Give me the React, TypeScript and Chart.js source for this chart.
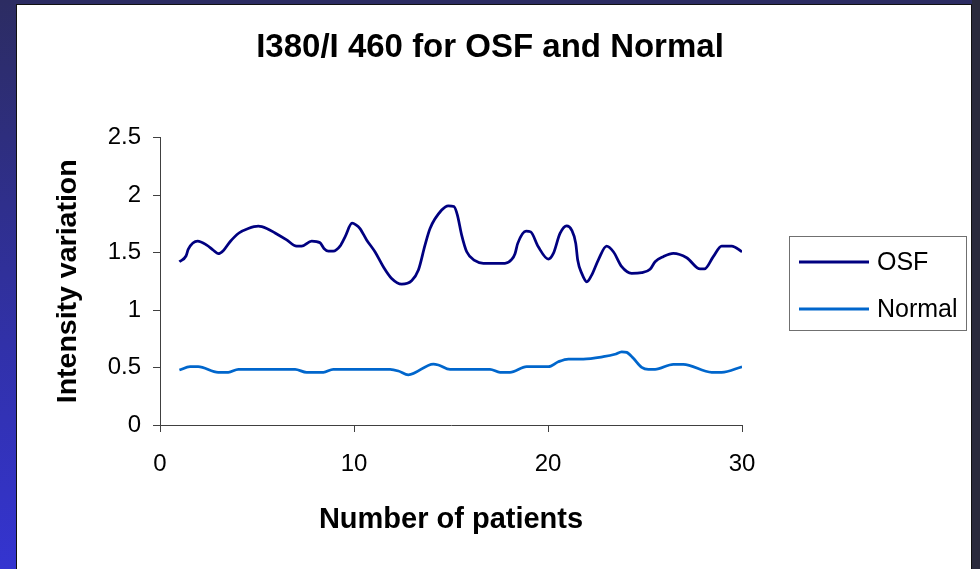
import React, { useEffect, useRef } from "react";
import { Chart, registerables } from "chart.js";

Chart.register(...registerables);

const osfPatient = [1, 1.34, 1.46, 1.94, 2.41, 2.75, 3.0, 3.26, 3.61, 4.07, 4.55, 5.07, 5.5, 5.93, 6.53, 7.04, 7.3, 7.82, 8.25, 8.45, 8.68, 8.93, 9.28, 9.54, 9.9, 10.1, 10.3, 10.65, 11.08, 11.51, 11.94, 12.46, 12.97, 13.32, 13.66, 13.92, 14.52, 14.86, 15.15, 15.33, 15.55, 15.81, 16.24, 16.67, 17.78, 18.13, 18.3, 18.44, 18.87, 19.11, 19.5, 20.02, 20.27, 20.62, 20.96, 21.22, 21.43, 21.53, 21.74, 22.0, 22.25, 22.59, 23.02, 23.37, 23.8, 24.31, 24.83, 25.26, 25.52, 25.94, 26.46, 27.15, 27.84, 28.06, 28.52, 28.95, 29.47, 30];
const osfRatio = [1.42, 1.47, 1.53, 1.6, 1.565, 1.52, 1.49, 1.516, 1.594, 1.67, 1.71, 1.73, 1.71, 1.67, 1.61, 1.556, 1.556, 1.6, 1.585, 1.536, 1.513, 1.513, 1.556, 1.637, 1.755, 1.74, 1.71, 1.61, 1.507, 1.377, 1.275, 1.226, 1.255, 1.348, 1.565, 1.71, 1.87, 1.907, 1.9, 1.826, 1.652, 1.507, 1.429, 1.406, 1.406, 1.44, 1.49, 1.58, 1.687, 1.68, 1.55, 1.443, 1.49, 1.667, 1.733, 1.696, 1.58, 1.435, 1.319, 1.246, 1.304, 1.435, 1.556, 1.507, 1.377, 1.319, 1.325, 1.354, 1.42, 1.464, 1.493, 1.455, 1.357, 1.357, 1.464, 1.556, 1.556, 1.507];

const normalPatient = [1, 1.55, 1.97, 3.0, 3.52, 4.04, 6.96, 7.56, 8.42, 8.93, 11.86, 12.29, 12.8, 14.09, 14.35, 14.95, 17.01, 17.53, 18.04, 18.9, 20.02, 20.53, 21.05, 21.82, 22.85, 23.45, 23.8, 24.06, 24.4, 24.83, 25.17, 25.52, 26.46, 26.97, 28.44, 28.95, 30];
const normalRatio = [0.478, 0.507, 0.507, 0.458, 0.458, 0.484, 0.484, 0.458, 0.458, 0.484, 0.484, 0.47, 0.437, 0.53, 0.522, 0.484, 0.484, 0.458, 0.458, 0.507, 0.507, 0.55, 0.574, 0.574, 0.594, 0.615, 0.637, 0.632, 0.58, 0.502, 0.484, 0.484, 0.528, 0.528, 0.458, 0.458, 0.507];

const seriesLabels = ["OSF", "Normal"];
const seriesColors = ["#000080", "#0066cc"];
const xTickValues = [0, 10, 20, 30];
const yTickValues = [0, 0.5, 1, 1.5, 2, 2.5];

const FONT = '"Liberation Sans", Arial, sans-serif';

const boxLegend = {
  id: "boxLegend",
  afterDraw(chart: any) {
    const ctx = chart.ctx;
    ctx.save();
    ctx.strokeStyle = "#707070";
    ctx.lineWidth = 1;
    ctx.strokeRect(789.5, 236.5, 177, 94);
    chart.data.datasets.forEach((ds: any, i: number) => {
      const y = 262 + i * 47;
      ctx.strokeStyle = ds.borderColor;
      ctx.lineWidth = 3;
      ctx.beginPath();
      ctx.moveTo(799, y);
      ctx.lineTo(869, y);
      ctx.stroke();
      ctx.fillStyle = "#000";
      ctx.font = `25px ${FONT}`;
      ctx.textBaseline = "middle";
      ctx.textAlign = "left";
      ctx.fillText(ds.label, 877, y + 1);
    });
    ctx.restore();
  },
};

export default function App() {
  const ref = useRef<HTMLCanvasElement>(null);

  useEffect(() => {
    if (!ref.current) return;
    const chart = new Chart(ref.current, {
      type: "line",
      data: {
        datasets: [
          {
            label: seriesLabels[0],
            data: osfPatient.map((x, i) => ({ x, y: osfRatio[i] })),
            borderColor: seriesColors[0],
            backgroundColor: seriesColors[0],
            borderWidth: 2.75,
            pointRadius: 0,
            cubicInterpolationMode: "monotone",
            fill: false,
          },
          {
            label: seriesLabels[1],
            data: normalPatient.map((x, i) => ({ x, y: normalRatio[i] })),
            borderColor: seriesColors[1],
            backgroundColor: seriesColors[1],
            borderWidth: 2.75,
            pointRadius: 0,
            cubicInterpolationMode: "monotone",
            fill: false,
          },
        ],
      },
      options: {
        animation: false,
        responsive: false,
        devicePixelRatio: 1,
        layout: { padding: { left: 0, right: 0, top: 0, bottom: 0 } },
        plugins: {
          legend: { display: false },
          tooltip: { enabled: false },
          title: {
            display: true,
            text: "I380/I 460 for OSF and Normal",
            color: "#000",
            font: { family: FONT, size: 33, weight: "bold" },
            padding: { top: 28, bottom: 70 },
          },
        },
        scales: {
          x: {
            type: "linear",
            min: 0,
            max: 30,
            afterBuildTicks: (s: any) => {
              s.ticks = xTickValues.map((v) => ({ value: v }));
            },
            ticks: {
              color: "#000",
              font: { family: FONT, size: 24 },
              padding: 18,
              maxRotation: 0,
              callback: (v: any) => String(v),
            },
            grid: { drawOnChartArea: false, drawTicks: true, tickLength: 7, color: "#404040" },
            border: { display: true, color: "#404040", width: 1 },
            title: {
              display: true,
              text: "Number of patients",
              color: "#000",
              font: { family: FONT, size: 29, weight: "bold" },
              padding: { top: 0, bottom: 32 },
            },
            afterFit: (s: any) => {
              s.height = 144;
            },
          },
          y: {
            min: 0,
            max: 2.5,
            afterBuildTicks: (s: any) => {
              s.ticks = yTickValues.map((v) => ({ value: v }));
            },
            ticks: {
              color: "#000",
              font: { family: FONT, size: 24 },
              padding: 12,
              callback: (v: any) => String(v),
            },
            grid: { drawOnChartArea: false, drawTicks: true, tickLength: 7, color: "#404040" },
            border: { display: true, color: "#404040", width: 1 },
            title: {
              display: true,
              text: "Intensity variation",
              color: "#000",
              font: { family: FONT, size: 28.5, weight: "bold" },
              padding: { top: 51, bottom: 0 },
            },
            afterFit: (s: any) => {
              s.width = 160;
            },
          },
          legendSpace: {
            type: "linear",
            position: "right",
            display: true,
            min: 0,
            max: 1,
            ticks: { display: false },
            grid: { display: false, drawTicks: false },
            border: { display: false },
            afterFit: (s: any) => {
              s.width = 238;
            },
          },
        },
      },
      plugins: [boxLegend],
    } as any);
    return () => chart.destroy();
  }, []);

  return (
    <div
      style={{
        position: "fixed",
        left: 0,
        top: 0,
        width: 980,
        height: 569,
        overflow: "hidden",
        background: "linear-gradient(to bottom, #2c2c62 0%, #3131a8 60%, #3434d0 100%)",
      }}
    >
      <div style={{ position: "absolute", left: 972, top: 0, width: 8, height: 569, background: "#2a2a3c" }} />
      <div
        style={{
          position: "absolute",
          left: 16,
          top: 4,
          width: 956,
          height: 570,
          background: "#ffffff",
          borderLeft: "1px solid #111",
          borderTop: "1px solid #111",
          borderRight: "1px solid #111",
          boxSizing: "border-box",
        }}
      />
      <canvas
        ref={ref}
        width={980}
        height={569}
        style={{ position: "absolute", left: 0, top: 0, width: 980, height: 569 }}
      />
    </div>
  );
}
